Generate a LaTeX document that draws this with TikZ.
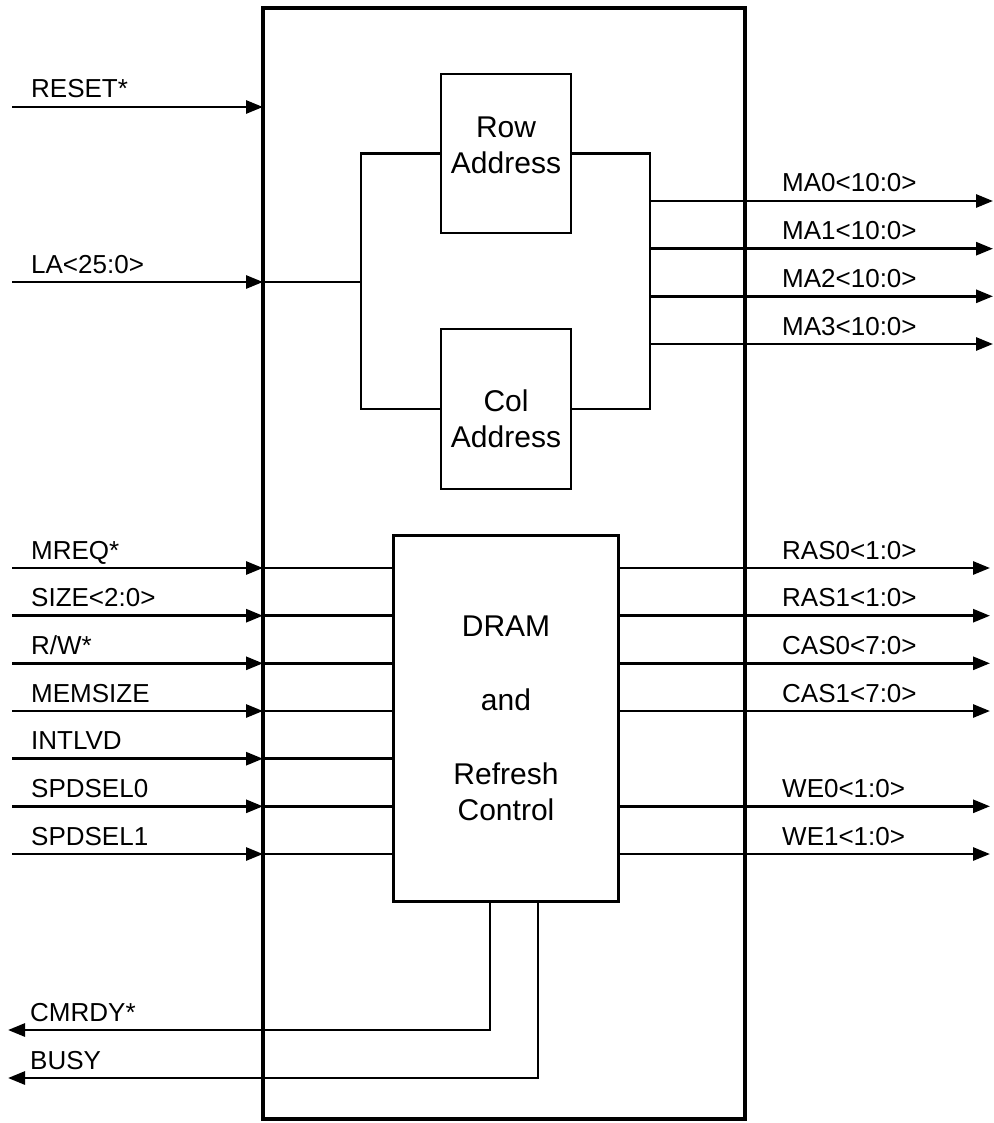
\documentclass[tikz,border=0pt]{standalone}
\usepackage{fontspec}
\setmainfont{Liberation Sans}
\usetikzlibrary{arrows.meta, calc}

\begin{document}
\begin{tikzpicture}[x=1pt, y=-1pt,
  wire/.style={line width=2.8pt},
  sig/.style={line width=2.8pt, -{Triangle[length=17pt, width=13pt]}},
  blk/.style={draw, line width=2.8pt, inner sep=0pt, outer sep=0pt},
  blktext/.style={align=center, inner sep=0pt, font=\fontsize{30}{36}\selectfont},
  lbl/.style={anchor=base west, inner sep=0pt, font=\fontsize{26}{30}\selectfont}]
\useasboundingbox (0,0) rectangle (993,1123);
% the chip and its blocks
\node[draw, line width=4.5pt, outer sep=0pt, minimum width=482pt, minimum height=1111pt] (chip) at (504,563.5) {};
\node[blk, minimum width=130pt, minimum height=159pt] (row) at (506,153.5) {};
\node[blk, minimum width=130pt, minimum height=160pt] (col) at (506,409) {};
\node[blk, blktext, minimum width=225pt, minimum height=366pt] (dram) at (506,718.5) {DRAM\\[38pt]and\\[38pt]Refresh\\Control};
\node[blktext] (rowtext) at ($(row.center)+(0,-8)$) {Row\\Address};
\node[blktext] (coltext) at ($(col.center)+(0,10)$) {Col\\Address};
% reset and address in
\coordinate (rstIn) at (12,107);
\coordinate (laIn) at (12,282);
\coordinate (split) at (361,282);
\draw[sig] (rstIn) -- (rstIn -| chip.west);
\draw[sig] (laIn) -- (laIn -| chip.west);
\draw[wire] (laIn -| chip.west) -- (split);
\draw[wire] (row.west) -| (split) |- (col.west);
\node[lbl] (rst) at (31,98) {RESET*};
\node[lbl] (la) at (31,273) {LA<25:0>};
% memory address out
\coordinate (join) at (650,280);
\draw[wire] (row.east) -| (join) |- (col.east);
\coordinate (maZero) at (993,201);
\coordinate (maOne) at (993,248.7);
\coordinate (maTwo) at (993,296.3);
\coordinate (maThree) at (993,344);
\draw[sig] (join |- maZero) -- (maZero);
\draw[sig] (join |- maOne) -- (maOne);
\draw[sig] (join |- maTwo) -- (maTwo);
\draw[sig] (join |- maThree) -- (maThree);
\node[lbl] (ma0) at (782,192) {MA0<10:0>};
\node[lbl] (ma1) at (782,239.7) {MA1<10:0>};
\node[lbl] (ma2) at (782,287.3) {MA2<10:0>};
\node[lbl] (ma3) at (782,335) {MA3<10:0>};
% control in
\coordinate (mreqIn) at (12,568);
\coordinate (sizeIn) at (12,615.7);
\coordinate (rwIn) at (12,663.3);
\coordinate (msizeIn) at (12,711);
\coordinate (intlvIn) at (12,758.7);
\coordinate (spdaIn) at (12,806.3);
\coordinate (spdbIn) at (12,854);
\draw[sig] (mreqIn) -- (mreqIn -| chip.west);
\draw[sig] (sizeIn) -- (sizeIn -| chip.west);
\draw[sig] (rwIn) -- (rwIn -| chip.west);
\draw[sig] (msizeIn) -- (msizeIn -| chip.west);
\draw[sig] (intlvIn) -- (intlvIn -| chip.west);
\draw[sig] (spdaIn) -- (spdaIn -| chip.west);
\draw[sig] (spdbIn) -- (spdbIn -| chip.west);
\draw[wire] (mreqIn -| chip.west) -- (mreqIn -| dram.west);
\draw[wire] (sizeIn -| chip.west) -- (sizeIn -| dram.west);
\draw[wire] (rwIn -| chip.west) -- (rwIn -| dram.west);
\draw[wire] (msizeIn -| chip.west) -- (msizeIn -| dram.west);
\draw[wire] (intlvIn -| chip.west) -- (intlvIn -| dram.west);
\draw[wire] (spdaIn -| chip.west) -- (spdaIn -| dram.west);
\draw[wire] (spdbIn -| chip.west) -- (spdbIn -| dram.west);
\node[lbl] (mreq) at (31,559) {MREQ*};
\node[lbl] (size) at (31,606.7) {SIZE<2:0>};
\node[lbl] (rw) at (31,654.3) {R/W*};
\node[lbl] (msize) at (31,702) {MEMSIZE};
\node[lbl] (intlv) at (31,749.7) {INTLVD};
\node[lbl] (spda) at (31,797.3) {SPDSEL0};
\node[lbl] (spdb) at (31,845) {SPDSEL1};
% strobes out
\coordinate (rasZero) at (990,568);
\coordinate (rasOne) at (990,615.7);
\coordinate (casZero) at (990,663.3);
\coordinate (casOne) at (990,711);
\coordinate (weZero) at (990,806.3);
\coordinate (weOne) at (990,854);
\draw[sig] (rasZero -| dram.east) -- (rasZero);
\draw[sig] (rasOne -| dram.east) -- (rasOne);
\draw[sig] (casZero -| dram.east) -- (casZero);
\draw[sig] (casOne -| dram.east) -- (casOne);
\draw[sig] (weZero -| dram.east) -- (weZero);
\draw[sig] (weOne -| dram.east) -- (weOne);
\node[lbl] (ras0) at (782,559) {RAS0<1:0>};
\node[lbl] (ras1) at (782,606.7) {RAS1<1:0>};
\node[lbl] (cas0) at (782,654.3) {CAS0<7:0>};
\node[lbl] (cas1) at (782,702) {CAS1<7:0>};
\node[lbl] (we0) at (782,797.3) {WE0<1:0>};
\node[lbl] (we1) at (782,845) {WE1<1:0>};
% status out
\coordinate (rdyOut) at (8,1030);
\coordinate (busyOut) at (8,1078);
\draw[sig] ([xshift=-16pt]dram.south) |- (rdyOut);
\draw[sig] ([xshift=32pt]dram.south) |- (busyOut);
\node[lbl] (rdy) at (30,1021) {CMRDY*};
\node[lbl] (busy) at (30,1069) {BUSY};
\end{tikzpicture}
\end{document}
